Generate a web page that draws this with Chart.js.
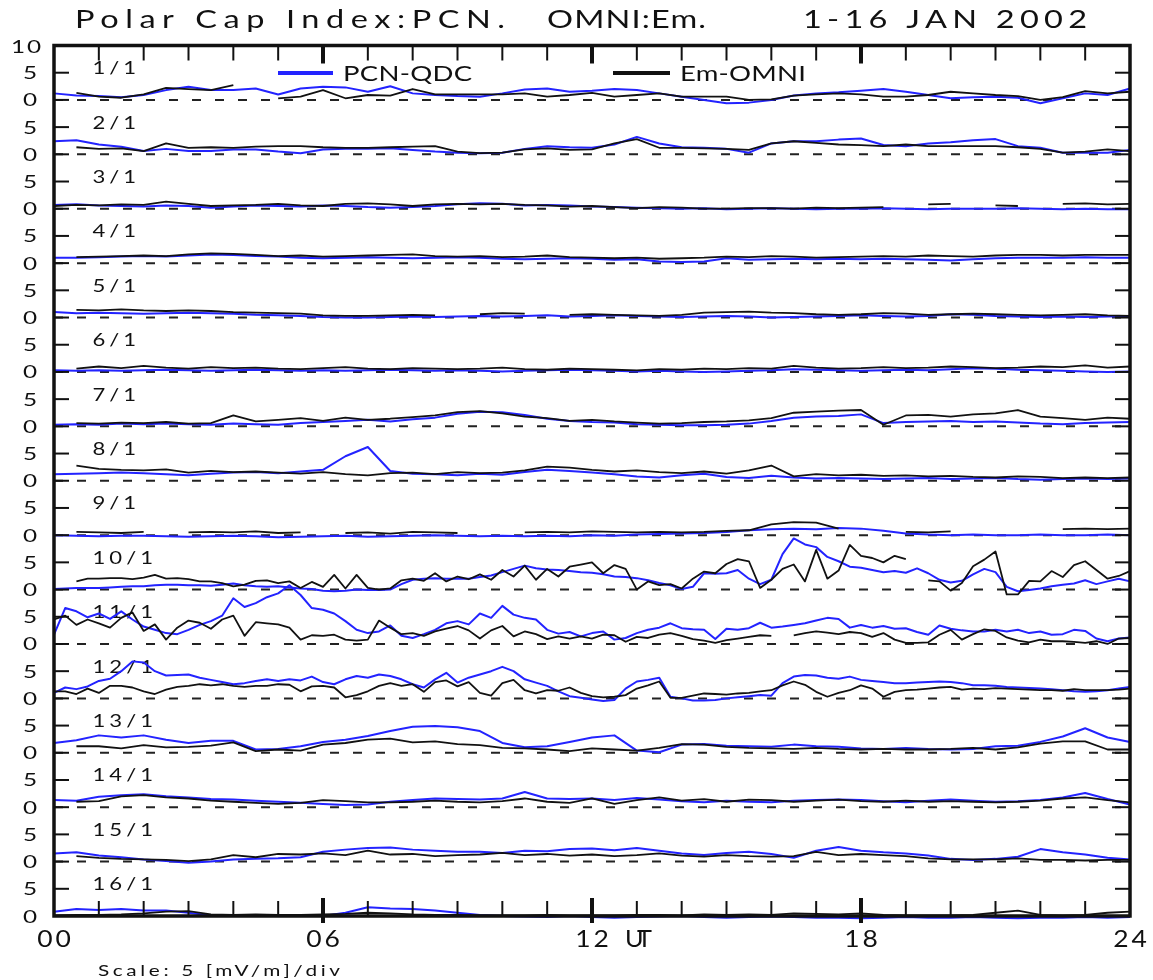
<!DOCTYPE html>
<html>
<head>
<meta charset="utf-8">
<title>Polar Cap Index PCN / OMNI Em  1-16 JAN 2002</title>
<script src="https://cdn.jsdelivr.net/npm/chart.js@4/dist/chart.umd.min.js"></script>
<style>
  html, body { margin: 0; padding: 0; background: #fff; }
  canvas { display: block; }
</style>
</head>
<body>
<canvas id="grafico" width="1153" height="980"></canvas>
<script>
// one row per day, values in mV/m, regular time grid from 00 to 24 UT
const days = ["1/1", "2/1", "3/1", "4/1", "5/1", "6/1", "7/1", "8/1",
              "9/1", "10/1", "11/1", "12/1", "13/1", "14/1", "15/1", "16/1"];
const hourTicks = [0, 6, 12, 18, 24];
const hourLabels = ["00", "06", "12", "18", "24"];
const yTicks = [0, 5];
const yTickLabels = ["0", "5"];
const seriesNames = ["PCN-QDC", "Em-OMNI"];

// half-hour samples (49 per day)
const pcn01 = [1.2, 0.8, 0.7, 0.5, 0.9, 1.8, 2.4, 1.8, 1.8, 2.1, 1.0, 2.1, 2.4, 2.3, 1.5, 2.5, 1.2, 0.9, 0.7, 0.6, 1.2, 1.9, 2.1, 1.5, 1.7, 2.0, 1.8, 1.2, 0.6, 0.0, -0.6, -0.5, 0.0, 0.8, 1.2, 1.4, 1.7, 2.0, 1.5, 0.9, 0.3, 0.5, 0.6, 0.4, -0.6, 0.3, 1.2, 0.9, 2.1];
const em01 = [null, 1.3, 0.6, 0.4, 1.0, 2.2, 2.0, 1.8, 2.7, null, 0.3, 0.6, 1.8, 0.3, 0.9, 0.8, 2.0, 1.0, 1.0, 1.0, 1.0, 1.2, 0.6, 0.9, 1.3, 0.6, 0.9, 1.2, 0.6, 0.6, 0.6, 0.0, 0.1, 0.8, 1.0, 1.2, 1.0, 0.6, 0.6, 0.9, 1.5, 1.2, 0.9, 0.7, 0.0, 0.5, 1.6, 1.2, 1.5];
const pcn02 = [2.4, 2.6, 1.8, 1.4, 0.6, 1.0, 0.6, 0.6, 0.9, 0.9, 0.5, 0.2, 0.9, 1.0, 1.0, 1.1, 0.8, 0.5, 0.3, 0.2, 0.3, 1.0, 1.5, 1.3, 1.2, 1.8, 3.2, 2.0, 1.3, 1.2, 1.0, 0.3, 2.0, 2.4, 2.4, 2.7, 2.9, 1.7, 1.5, 2.0, 2.2, 2.6, 2.8, 1.5, 1.2, 0.3, 0.3, 0.3, 0.8];
const em02 = [null, 1.3, 1.0, 1.1, 0.6, 2.0, 1.2, 1.3, 1.2, 1.4, 1.5, 1.5, 1.3, 1.2, 1.2, 1.3, 1.4, 1.5, 0.5, 0.2, 0.3, 0.9, 1.1, 0.8, 0.9, 2.0, 2.8, 1.2, 1.2, 1.1, 1.0, 0.8, 2.0, 2.4, 2.1, 1.8, 1.7, 1.5, 1.8, 1.5, 1.5, 1.5, 1.5, 1.3, 1.0, 0.3, 0.5, 0.9, 0.6];
const pcn03 = [0.7, 0.8, 0.6, 0.5, 0.4, 0.6, 0.5, 0.2, 0.4, 0.6, 0.5, 0.4, 0.6, 0.5, 0.3, 0.2, 0.3, 0.5, 0.8, 1.0, 0.9, 0.6, 0.7, 0.6, 0.4, 0.3, 0.2, 0.1, 0.0, 0.1, -0.1, 0.0, 0.1, 0.0, -0.1, 0.0, 0.0, 0.1, 0.0, -0.1, 0.0, 0.0, 0.0, 0.1, 0.0, -0.1, 0.0, -0.1, -0.1];
const em03 = [0.5, 0.7, 0.6, 0.8, 0.7, 1.3, 0.9, 0.5, 0.6, 0.7, 0.9, 0.6, 0.5, 0.9, 1.0, 0.8, 0.5, 0.8, 0.9, 0.8, 0.9, 0.7, 0.6, 0.4, 0.5, 0.3, 0.1, 0.3, 0.2, 0.0, 0.0, 0.1, 0.1, 0.0, 0.2, 0.1, 0.2, 0.3, null, 0.8, 0.9, null, 0.6, 0.5, null, 0.9, 1.0, 0.8, 0.9];
const pcn04 = [1.0, 1.0, 1.1, 1.2, 1.3, 1.2, 1.4, 1.6, 1.5, 1.3, 1.2, 1.0, 0.9, 1.0, 1.1, 1.0, 0.9, 1.0, 1.1, 1.0, 0.8, 0.7, 0.8, 0.9, 0.8, 0.6, 0.7, 0.3, 0.2, 0.3, 0.9, 0.6, 0.7, 0.8, 0.7, 0.8, 0.7, 0.8, 0.7, 0.6, 0.5, 0.7, 0.9, 1.0, 1.0, 1.0, 1.1, 1.0, 1.0];
const em04 = [null, 1.1, 1.2, 1.3, 1.4, 1.3, 1.6, 1.8, 1.7, 1.5, 1.3, 1.4, 1.2, 1.3, 1.4, 1.5, 1.6, 1.3, 1.2, 1.3, 1.1, 1.2, 1.4, 1.1, 1.0, 0.9, 1.0, 0.8, 0.9, 1.0, 1.2, 1.1, 1.3, 1.2, 1.0, 1.1, 1.2, 1.3, 1.2, 1.4, 1.3, 1.2, 1.4, 1.5, 1.5, 1.4, 1.5, 1.5, 1.5];
const pcn05 = [1.0, 0.8, 0.9, 0.8, 0.7, 0.8, 0.9, 0.8, 0.7, 0.5, 0.4, 0.3, 0.1, 0.0, 0.0, 0.1, 0.2, 0.1, 0.2, 0.3, 0.2, 0.3, 0.4, 0.2, 0.3, 0.4, 0.3, 0.2, 0.1, 0.2, 0.3, 0.2, 0.0, 0.1, 0.2, 0.3, 0.4, 0.3, 0.2, 0.3, 0.6, 0.5, 0.3, 0.2, 0.1, 0.2, 0.1, 0.2, 0.3];
const em05 = [null, 1.4, 1.3, 1.5, 1.3, 1.2, 1.3, 1.2, 1.0, 0.9, 0.8, 0.7, 0.4, 0.3, 0.3, 0.4, 0.5, 0.4, null, 0.6, 0.8, 0.7, null, 0.5, 0.6, 0.5, 0.4, 0.3, 0.5, 0.9, 1.0, 1.1, 0.9, 0.8, 0.6, 0.5, 0.6, 0.8, 0.7, 0.5, 0.6, 0.7, 0.6, 0.5, 0.4, 0.5, 0.6, 0.4, 0.3];
const pcn06 = [0.3, 0.2, 0.3, 0.2, 0.3, 0.4, 0.3, 0.2, 0.3, 0.4, 0.3, 0.2, 0.3, 0.2, 0.3, 0.4, 0.3, 0.2, 0.3, 0.2, 0.1, 0.2, 0.3, 0.4, 0.3, 0.2, 0.1, 0.2, 0.1, 0.0, 0.1, 0.2, 0.3, 0.5, 0.4, 0.3, 0.2, 0.3, 0.4, 0.3, 0.5, 0.7, 0.6, 0.4, 0.3, 0.2, 0.1, 0.0, 0.1];
const em06 = [null, 0.6, 1.0, 0.7, 1.1, 0.8, 0.6, 0.9, 0.7, 0.8, 0.6, 0.5, 0.7, 0.9, 0.6, 0.5, 0.7, 0.6, 0.5, 0.6, 0.8, 0.5, 0.4, 0.6, 0.5, 0.4, 0.3, 0.5, 0.4, 0.6, 0.5, 0.7, 0.6, 1.1, 0.8, 0.6, 0.7, 0.9, 0.7, 0.8, 1.0, 0.9, 0.7, 0.8, 1.0, 0.9, 1.2, 0.8, 1.0];
const pcn07 = [0.3, 0.4, 0.3, 0.5, 0.4, 0.5, 0.4, 0.3, 0.5, 0.4, 0.3, 0.6, 0.8, 1.0, 1.2, 0.9, 1.3, 1.6, 2.3, 2.7, 2.6, 2.1, 1.4, 1.0, 0.8, 0.7, 0.4, 0.3, 0.2, 0.2, 0.3, 0.5, 1.0, 1.6, 1.8, 1.9, 2.2, 0.6, 0.8, 0.9, 1.0, 0.8, 0.9, 0.7, 0.5, 0.4, 0.6, 0.7, 0.8];
const em07 = [null, 0.6, 0.5, 0.7, 0.6, 0.8, 0.5, 0.6, 2.0, 0.9, 1.2, 1.5, 1.0, 1.6, 1.2, 1.4, 1.7, 2.0, 2.6, 2.8, 2.4, 1.8, 1.5, 1.0, 1.2, 0.9, 0.7, 0.5, 0.6, 0.8, 0.9, 1.1, 1.5, 2.5, 2.7, 2.9, 3.0, 0.3, 2.0, 2.1, 1.8, 2.2, 2.4, 3.0, 1.8, 1.5, 1.2, 1.6, 1.4];
const pcn08 = [1.2, 1.3, 1.4, 1.5, 1.4, 1.2, 1.0, 1.3, 1.5, 1.6, 1.4, 1.7, 2.0, 4.5, 6.2, 1.8, 1.3, 1.2, 1.0, 1.3, 1.1, 1.6, 2.0, 1.8, 1.5, 1.2, 0.8, 0.6, 1.0, 1.3, 0.7, 0.5, 0.9, 0.6, 0.4, 0.5, 0.4, 0.3, 0.4, 0.5, 0.3, 0.4, 0.5, 0.3, 0.2, 0.3, 0.4, 0.3, 0.4];
const em08 = [null, 2.8, 2.2, 2.0, 1.9, 2.1, 1.5, 1.8, 1.6, 1.7, 1.5, 1.3, 1.6, 1.2, 1.0, 1.4, 1.5, 1.2, 1.6, 1.4, 1.5, 1.9, 2.6, 2.4, 2.0, 1.7, 1.9, 1.6, 1.4, 1.7, 1.3, 1.9, 2.8, 0.8, 1.2, 1.0, 1.1, 0.9, 1.0, 0.8, 0.9, 0.7, 0.6, 0.8, 0.7, 0.5, 0.6, 0.5, 0.6];
const pcn09 = [0.0, -0.1, -0.2, -0.1, -0.1, -0.2, -0.3, -0.2, -0.1, -0.2, -0.4, -0.3, -0.2, -0.1, -0.3, -0.2, -0.1, 0.0, -0.1, -0.2, -0.1, -0.2, -0.1, -0.2, 0.0, -0.1, 0.1, 0.2, 0.3, 0.4, 0.6, 0.9, 1.1, 1.2, 1.1, 1.3, 1.2, 0.8, 0.3, 0.1, 0.0, 0.1, 0.0, 0.0, 0.1, 0.0, 0.0, 0.1, 0.0];
const em09 = [null, 0.6, 0.5, 0.4, 0.6, null, 0.5, 0.6, 0.5, 0.7, 0.4, 0.5, null, 0.4, 0.5, 0.3, 0.6, 0.5, 0.4, null, null, 0.5, 0.6, 0.5, 0.7, 0.6, 0.5, 0.6, 0.5, 0.6, 0.8, 0.9, 2.0, 2.4, 2.3, 1.2, null, null, 0.6, 0.5, 0.7, null, null, null, null, 1.1, 1.2, 1.1, 1.2];

// quarter-hour samples (97 per day) for the disturbed days
const pcn10 = [0.1, 0.2, 0.3, 0.3, 0.3, 0.4, 0.5, 0.6, 0.6, 0.8, 0.9, 0.9, 0.8,
  0.8, 0.7, 0.9, 1.1, 0.8, 0.6, 0.5, 0.6, 0.4, 0.2, 0.1, -0.2,
  -0.3, -0.2, 0.0, -0.1, -0.1, 0.0, 1.0, 1.8, 2.0, 2.1, 2.0, 2.0,
  2.0, 2.3, 2.6, 3.2, 3.8, 4.4, 3.9, 3.7, 3.6, 3.4, 3.2, 3.1,
  2.8, 2.4, 2.3, 2.1, 1.7, 1.2, 0.8, 0.1, 0.5, 3.0, 2.9, 3.0,
  3.6, 2.0, 1.0, 1.8, 6.5, 9.4, 8.3, 7.8, 6.0, 5.2, 4.2, 4.0,
  3.6, 3.2, 3.4, 3.1, 3.9, 3.0, 1.8, 1.3, 1.6, 2.8, 3.8, 3.2,
  0.5, -0.3, -0.1, 0.2, 0.6, 0.9, 1.1, 1.7, 1.0, 1.5, 2.0, 1.5];
const em10 = [null, null, 1.5, 2.0, 2.0, 2.1, 2.1, 1.9, 2.2, 2.7, 2.0, 2.1, 1.9,
  1.5, 1.5, 1.2, 0.6, 0.9, 1.6, 1.7, 1.2, 1.5, 0.3, 1.4, 0.5,
  2.7, 0.2, 2.7, 0.3, 0.0, 0.2, 1.7, 2.0, 1.6, 3.0, 1.5, 2.4,
  1.9, 2.8, 1.8, 3.6, 2.4, 4.4, 1.8, 3.8, 2.4, 4.2, 4.6, 5.0,
  3.0, 4.5, 3.8, 0.0, 1.5, 0.8, 1.0, 0.2, 2.0, 3.3, 3.0, 4.7,
  5.6, 5.2, 0.3, 1.8, 3.8, 4.6, 1.5, 7.3, 2.0, 3.5, 8.2, 6.2,
  5.8, 5.0, 6.2, 5.6, null, 1.7, 1.5, -0.2, 1.2, 4.3, 5.5, 7.0,
  -0.9, -0.9, 1.6, 1.5, 3.4, 2.3, 4.5, 5.2, 3.6, 2.0, 2.5, 3.4];
const pcn11 = [1.7, 6.6, 6.0, 4.9, 5.6, 4.6, 6.0, 4.5, 3.2, 2.6, 2.0, 1.8, 2.6,
  3.5, 4.2, 5.2, 8.4, 6.8, 7.5, 8.6, 9.3, 10.8, 9.0, 6.6, 6.3,
  5.6, 4.2, 2.6, 2.0, 2.3, 3.4, 1.5, 1.1, 1.8, 2.6, 3.8, 4.2,
  3.6, 5.6, 4.8, 7.0, 5.4, 4.8, 4.5, 2.6, 1.9, 2.2, 1.4, 2.0,
  2.3, 0.8, 1.1, 2.0, 2.6, 3.0, 3.8, 2.9, 2.7, 2.6, 0.9, 2.8,
  2.6, 2.9, 3.9, 3.0, 3.2, 3.5, 3.8, 4.3, 4.8, 4.6, 3.0, 3.5,
  3.0, 3.3, 2.8, 2.9, 2.2, 1.7, 3.4, 2.8, 2.5, 2.3, 2.3, 2.6,
  2.3, 2.6, 2.0, 2.3, 1.7, 1.8, 2.6, 2.4, 1.0, 0.5, 1.0, 1.2];
const em11 = [4.5, 5.2, 3.5, 4.5, 3.8, 3.0, 4.8, 5.8, 2.4, 3.6, 0.8, 3.0, 4.3,
  3.9, 2.8, 4.5, 5.2, 1.5, 4.0, 3.8, 3.6, 3.0, 0.8, 1.6, 1.5,
  1.7, 0.8, 0.6, 0.8, 4.3, 3.0, 1.8, 2.0, 1.5, 2.3, 2.8, 3.3,
  2.5, 1.0, 2.5, 3.3, 1.4, 2.3, 1.8, 0.9, 1.4, 1.0, 1.4, 1.0,
  1.7, 1.6, 0.4, 1.3, 1.1, 1.7, 2.0, 1.5, 0.9, 0.6, 0.2, 0.7,
  1.0, 1.3, 1.6, 1.5, null, 1.6, 2.0, 2.3, 2.1, 1.8, 2.2, 2.0,
  1.3, 2.0, 0.8, 0.2, 0.2, 0.3, 1.7, 2.6, 0.8, 1.8, 2.7, 2.4,
  1.2, 0.6, 0.3, 0.8, 0.5, 0.5, 0.4, 0.2, 0.5, 0.0, 1.0, 1.1];
const pcn12 = [1.0, 2.0, 1.7, 2.2, 3.2, 3.6, 5.0, 6.8, 6.6, 5.0, 4.2, 4.3, 4.4,
  3.8, 3.4, 3.0, 2.6, 2.8, 3.2, 3.5, 3.2, 3.5, 3.3, 4.0, 3.0,
  2.6, 3.5, 4.1, 3.8, 4.4, 4.1, 3.5, 2.6, 2.0, 3.5, 4.7, 2.9,
  3.8, 4.4, 5.0, 5.8, 5.0, 3.5, 2.9, 2.3, 1.3, 0.4, 0.1, -0.2,
  -0.5, -0.3, 1.8, 3.1, 3.4, 3.8, 0.3, 0.0, -0.4, -0.4, -0.3, 0.0,
  0.2, 0.4, 0.6, 0.5, 2.8, 4.0, 4.3, 4.2, 3.8, 3.6, 4.0, 3.4,
  3.2, 3.0, 2.8, 2.8, 2.9, 3.0, 3.1, 3.0, 2.8, 2.4, 2.4, 2.3,
  2.1, 2.0, 1.9, 1.8, 1.7, 1.5, 1.3, 1.2, 1.3, 1.5, 1.8, 2.1];
const em12 = [1.3, 1.3, 0.8, 1.8, 1.0, 2.3, 2.3, 2.0, 1.3, 0.8, 1.6, 2.1, 2.3,
  2.6, 2.4, 2.6, 2.3, 2.1, 2.3, 2.3, 2.6, 2.5, 1.3, 2.2, 2.3,
  2.0, 0.2, 0.6, 1.3, 2.3, 2.8, 2.3, 2.6, 1.2, 3.0, 3.3, 2.2,
  3.0, 1.0, 0.5, 2.8, 3.4, 1.5, 0.9, 1.5, 1.4, 2.0, 1.0, 0.4,
  0.2, 0.3, 0.6, 1.8, 2.4, 3.1, 0.1, 0.1, 0.5, 0.9, 0.8, 0.7,
  0.9, 1.0, 1.3, 1.5, 2.4, 3.1, 2.5, 1.2, 0.3, 1.0, 1.5, 2.4,
  1.8, 0.3, 1.2, 1.5, 1.6, 1.8, 2.0, 2.1, 1.6, 1.8, 1.7, 1.9,
  1.8, 1.7, 1.6, 1.5, 1.5, 1.4, 1.7, 1.5, 1.5, 1.5, 1.6, 1.8];

const pcn13 = [1.8, 2.3, 3.2, 2.8, 3.2, 2.4, 1.8, 2.2, 2.2, 0.6, 0.7, 1.2, 2.0, 2.4, 3.1, 4.0, 4.8, 4.9, 4.7, 4.0, 1.8, 1.0, 1.2, 2.0, 2.8, 3.2, 0.4, 0.1, 1.5, 1.6, 1.3, 1.2, 1.1, 1.5, 1.2, 1.1, 0.8, 0.7, 0.9, 0.7, 0.6, 0.7, 1.2, 1.3, 2.0, 3.0, 4.5, 2.8, 2.0];
const em13 = [null, 1.2, 1.2, 0.8, 1.4, 1.0, 1.1, 1.3, 1.9, 0.3, 0.6, 0.4, 1.5, 1.8, 2.4, 2.6, 1.9, 2.1, 1.6, 1.4, 0.9, 0.8, 0.6, 0.3, 0.8, 0.6, 0.4, 0.9, 1.6, 1.5, 1.1, 0.9, 0.8, 0.7, 0.9, 0.7, 0.6, 0.7, 0.6, 0.6, 0.7, 0.9, 0.6, 1.0, 1.7, 2.1, 2.1, 0.6, 0.6];
const pcn14 = [1.3, 1.2, 1.9, 2.2, 2.4, 2.0, 1.8, 1.5, 1.4, 1.2, 1.0, 0.8, 0.6, 0.4, 0.5, 1.0, 1.3, 1.6, 1.5, 1.4, 1.6, 2.8, 1.6, 1.5, 1.6, 1.3, 1.7, 1.4, 1.1, 0.9, 1.2, 1.0, 0.9, 1.2, 1.3, 1.4, 1.3, 1.1, 0.9, 1.2, 1.4, 1.2, 1.0, 1.1, 1.3, 1.8, 2.6, 1.5, 0.5];
const em14 = [null, 1.0, 1.1, 2.0, 2.2, 1.8, 1.6, 1.2, 1.0, 0.8, 0.6, 0.8, 1.3, 1.1, 0.9, 0.9, 1.0, 1.2, 1.0, 0.9, 1.1, 1.6, 1.0, 0.8, 1.6, 0.6, 1.3, 1.8, 1.2, 1.5, 1.0, 1.4, 1.3, 1.0, 1.2, 1.4, 1.1, 1.0, 1.2, 1.0, 1.1, 1.0, 0.9, 1.0, 1.2, 1.6, 1.8, 1.3, 0.9];
const pcn15 = [1.5, 1.7, 1.1, 0.8, 0.4, 0.1, -0.2, 0.0, 0.4, 0.5, 0.6, 0.8, 1.8, 2.2, 2.5, 2.6, 2.2, 2.0, 1.8, 1.8, 1.6, 2.0, 1.9, 2.3, 2.4, 2.1, 2.5, 2.0, 1.5, 1.2, 1.6, 1.8, 1.4, 0.7, 2.0, 2.7, 2.0, 1.7, 1.5, 1.1, 0.5, 0.3, 0.5, 0.9, 2.3, 1.7, 1.3, 0.7, 0.4];
const em15 = [null, 1.0, 0.7, 0.5, 0.4, 0.3, 0.1, 0.4, 1.2, 0.8, 1.4, 1.3, 1.5, 1.2, 2.0, 1.3, 1.4, 1.0, 1.2, 1.3, 1.6, 1.2, 1.4, 1.1, 1.3, 1.0, 1.2, 1.5, 1.1, 0.9, 1.2, 1.0, 0.9, 1.0, 1.8, 1.2, 1.4, 1.2, 1.0, 0.6, 0.4, 0.4, 0.4, 0.6, 0.3, 0.3, 0.2, 0.3, 0.3];
const pcn16 = [0.8, 1.3, 1.1, 1.3, 1.0, 1.0, 0.6, 0.1, 0.0, 0.0, 0.0, 0.0, 0.0, 0.6, 1.6, 1.4, 1.3, 1.0, 0.6, 0.2, 0.0, -0.1, -0.2, 0.0, -0.2, -0.3, -0.2, -0.1, 0.0, -0.2, -0.3, -0.2, -0.1, -0.2, -0.3, -0.3, -0.4, -0.3, -0.2, -0.3, -0.3, -0.2, -0.3, -0.4, -0.3, -0.3, -0.2, -0.3, -0.2];
const em16 = [0.1, 0.2, 0.2, 0.3, 0.5, 0.8, 0.9, 0.3, 0.2, 0.3, 0.2, 0.2, 0.3, 0.4, 0.6, 0.5, 0.3, 0.2, 0.2, 0.1, 0.1, 0.1, 0.2, 0.1, 0.1, 0.1, 0.2, 0.2, 0.1, 0.3, 0.2, 0.3, 0.2, 0.5, 0.4, 0.3, 0.5, 0.2, 0.1, 0.1, 0.1, 0.2, 0.6, 1.0, 0.2, 0.1, 0.2, 0.6, 0.8];

const pcnSeries = [pcn01, pcn02, pcn03, pcn04, pcn05, pcn06, pcn07, pcn08,
                   pcn09, pcn10, pcn11, pcn12, pcn13, pcn14, pcn15, pcn16];
const emSeries = [em01, em02, em03, em04, em05, em06, em07, em08,
                  em09, em10, em11, em12, em13, em14, em15, em16];

const PANEL = 10;              // each day row spans two 5 mV/m divisions
const nDays = days.length;
const AZUL = "#2323ff";
const TINTA = "#111";
const FUENTE = 'Lato, "DejaVu Sans", sans-serif';

function baseDia(k) {
  return (nDays - 1 - k) * PANEL;
}

// put a day's samples on the shared axis, shifted up to its own row
function serie(valores, k) {
  const base = baseDia(k);
  const paso = 24 / (valores.length - 1);
  return valores.map((v, i) => ({ x: i * paso, y: v === null ? null : base + v }));
}

function escribir(ctx, str, x, y, size, { align = "left", ancho = null, estirar = 1, espacio = 0 } = {}) {
  ctx.save();
  ctx.font = `400 ${size}px ${FUENTE}`;
  ctx.fillStyle = TINTA;
  ctx.textBaseline = "alphabetic";
  ctx.textAlign = "left";
  ctx.letterSpacing = "0px";
  const natural = ctx.measureText(str).width * estirar;
  const n = str.length;
  if (ancho !== null && n > 1) espacio = (ancho - natural) / (n - 1);
  const total = natural + espacio * (n - 1);
  const x0 = align === "center" ? x - total / 2 : align === "right" ? x - total : x;
  ctx.letterSpacing = (espacio / estirar) + "px";
  ctx.translate(x0, y);
  ctx.scale(estirar, 1);
  ctx.fillText(str, 0, 0);
  ctx.restore();
}

function linea(ctx, x1, y1, x2, y2, ancho, color) {
  ctx.beginPath();
  ctx.lineWidth = ancho;
  ctx.strokeStyle = color;
  ctx.moveTo(x1, y1);
  ctx.lineTo(x2, y2);
  ctx.stroke();
}

const paneles = {
  id: "paneles",
  beforeDatasetsDraw(chart) {
    const { ctx, chartArea: a, scales: { y } } = chart;
    // dashed zero line of every day row
    ctx.save();
    ctx.setLineDash([9, 14]);
    days.forEach((d, k) => {
      const base = baseDia(k);
      if (base === 0) return;
      const py = y.getPixelForValue(base);
      linea(ctx, a.left, py, a.right, py, 2, "#222");
    });
    ctx.restore();
    // day names, under the traces
    days.forEach((d, k) => {
      const py = y.getPixelForValue(baseDia(k) + 5) + 1.5;
      escribir(ctx, d, a.left + 38.5, py, 17, { estirar: 1.3, espacio: 4 });
    });
  },
  afterDatasetsDraw(chart) {
    const { ctx, chartArea: a, scales: { x, y } } = chart;
    ctx.save();
    ctx.lineCap = "butt";

    // y ticks on both sides, inward
    days.forEach((d, k) => {
      yTicks.forEach((t, j) => {
        const py = y.getPixelForValue(baseDia(k) + t);
        linea(ctx, a.left, py, a.left + 15, py, 2, TINTA);
        linea(ctx, a.right - 15, py, a.right, py, 2, TINTA);
        escribir(ctx, yTickLabels[j], 30, py + 6.5, 18, { align: "center", estirar: 1.35 });
      });
    });
    escribir(ctx, "10", 26, y.getPixelForValue(nDays * PANEL) + 7, 18, { align: "center", estirar: 1.35, espacio: 2 });

    // hourly ticks, heavier every 6 h
    for (let h = 1; h < 24; h++) {
      const px = x.getPixelForValue(h);
      if (h % 6 === 0) {
        linea(ctx, px, a.top, px, a.top + 18, 4, TINTA);
        linea(ctx, px, a.bottom - 18, px, a.bottom + 7, 4, TINTA);
      } else {
        linea(ctx, px, a.top, px, a.top + 15, 2, TINTA);
        linea(ctx, px, a.bottom - 15, px, a.bottom, 2, TINTA);
      }
    }

    // frame
    ctx.lineWidth = 3.5;
    ctx.strokeStyle = TINTA;
    ctx.strokeRect(a.left, a.top, a.right - a.left, a.bottom - a.top);

    // time labels
    hourTicks.forEach((h, i) => {
      escribir(ctx, hourLabels[i], x.getPixelForValue(h), 947, 23, { align: "center", estirar: 1.15, espacio: 3 });
    });
    escribir(ctx, "UT", x.getPixelForValue(12) + 33, 947, 23, { ancho: 27, estirar: 1.1 });

    // heading
    escribir(ctx, "Polar Cap Index:PCN.", 75, 28, 25, { ancho: 430, estirar: 1.3 });
    escribir(ctx, "OMNI:Em.", 547, 28, 25, { ancho: 159, estirar: 1.3 });
    escribir(ctx, "1-16 JAN 2002", 803, 28, 25, { ancho: 284, estirar: 1.3 });

    // legend
    linea(ctx, 278, 73, 333, 73, 4, AZUL);
    escribir(ctx, seriesNames[0], 343, 81, 22, { ancho: 129, estirar: 1.25 });
    linea(ctx, 613, 73, 670, 73, 4, TINTA);
    escribir(ctx, seriesNames[1], 680, 81, 22, { ancho: 126, estirar: 1.25 });

    escribir(ctx, "Scale: 5 [mV/m]/div", 98, 976, 16, { ancho: 242, estirar: 1.3 });
    ctx.restore();
  }
};

const datasets = [];
days.forEach((d, k) => {
  datasets.push({
    label: seriesNames[0] + " " + d,
    data: serie(pcnSeries[k], k),
    borderColor: AZUL,
    borderWidth: 2,
    order: 1,
  });
  datasets.push({
    label: seriesNames[1] + " " + d,
    data: serie(emSeries[k], k),
    borderColor: TINTA,
    borderWidth: 1.8,
    order: 0,
  });
});

new Chart(document.getElementById("grafico"), {
  type: "line",
  data: { datasets },
  options: {
    responsive: false,
    animation: false,
    events: [],
    layout: { padding: { left: 54, right: 23, top: 45.5, bottom: 64 } },
    plugins: { legend: { display: false }, tooltip: { enabled: false } },
    elements: {
      point: { radius: 0 },
      line: { tension: 0, borderJoinStyle: "round", spanGaps: false },
    },
    datasets: { line: { clip: false, spanGaps: false } },
    scales: {
      x: { type: "linear", min: 0, max: 24, display: false },
      y: { type: "linear", min: 0, max: nDays * PANEL, display: false },
    },
  },
  plugins: [paneles],
});
</script>
</body>
</html>
